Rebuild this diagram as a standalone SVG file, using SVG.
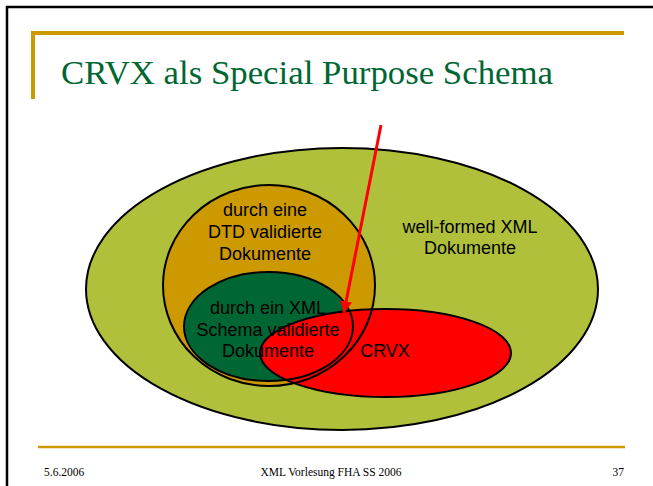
<svg xmlns="http://www.w3.org/2000/svg" width="653" height="486" viewBox="0 0 653 486">
<defs>
<style>
.lbl{font-family:"Liberation Sans",Arial,sans-serif;font-size:18px;fill:#000;text-anchor:middle}
.foot{font-family:"Liberation Serif","DejaVu Serif",serif;font-size:11.5px;fill:#000}
.ol{fill:none;stroke:#000;stroke-width:2}
</style>
<marker id="ah" viewBox="0 0 10 10" refX="9" refY="5" markerWidth="4" markerHeight="4" orient="auto" markerUnits="strokeWidth">
<path d="M0,0 L10,5 L0,10 z" fill="#FF0000"/>
</marker>
</defs>
<rect width="653" height="486" fill="#fff"/>
<g id="frame">
<line x1="6" y1="7" x2="653" y2="7" stroke="#000" stroke-width="2.5"/>
<line x1="7" y1="6" x2="7" y2="486" stroke="#000" stroke-width="2.5"/>
<line x1="31" y1="33" x2="624" y2="33" stroke="#CC9900" stroke-width="4"/>
<line x1="33" y1="31" x2="33" y2="99" stroke="#CC9900" stroke-width="4"/>
<line x1="38" y1="447" x2="625" y2="447" stroke="#CC9900" stroke-width="2.5"/>
</g>
<text id="title" x="61" y="84" font-family="'Liberation Serif','DejaVu Serif',serif" font-size="34" fill="#006633" textLength="492" lengthAdjust="spacingAndGlyphs">CRVX als Special Purpose Schema</text>
<g id="wellformed">
<ellipse cx="342" cy="289" rx="256" ry="141" fill="#B0C03A" stroke="#000" stroke-width="2"/>
<text class="lbl" x="470" y="233">well-formed XML</text>
<text class="lbl" x="470" y="254">Dokumente</text>
</g>
<g id="dtd">
<ellipse cx="269" cy="285.5" rx="106" ry="100.5" fill="#CC9900"/>
</g>
<g id="schema">
<ellipse cx="268.5" cy="326.5" rx="84.5" ry="54.5" fill="#006633"/>
</g>
<g id="crvx">
<ellipse cx="385.5" cy="353" rx="125.5" ry="44" fill="#FF0000" stroke="#000" stroke-width="2"/>
<text class="lbl" x="385" y="357">CRVX</text>
</g>
<g id="outlines">
<ellipse class="ol" cx="269" cy="285.5" rx="106" ry="100.5"/>
<ellipse class="ol" cx="268.5" cy="326.5" rx="84.5" ry="54.5"/>
</g>
<g id="labels">
<text class="lbl" x="265" y="216">durch eine</text>
<text class="lbl" x="265" y="238">DTD validierte</text>
<text class="lbl" x="265" y="260">Dokumente</text>
<text class="lbl" x="268" y="314">durch ein XML</text>
<text class="lbl" x="268" y="336">Schema validierte</text>
<text class="lbl" x="268" y="357">Dokumente</text>
</g>
<g id="connectors">
<line x1="381" y1="125" x2="344" y2="312" stroke="#FF0000" stroke-width="3" marker-end="url(#ah)"/>
</g>
<g id="footer">
<text class="foot" x="44" y="476">5.6.2006</text>
<text class="foot" x="331" y="476" text-anchor="middle">XML Vorlesung FHA SS 2006</text>
<text class="foot" x="624" y="476" text-anchor="end">37</text>
</g>
</svg>
